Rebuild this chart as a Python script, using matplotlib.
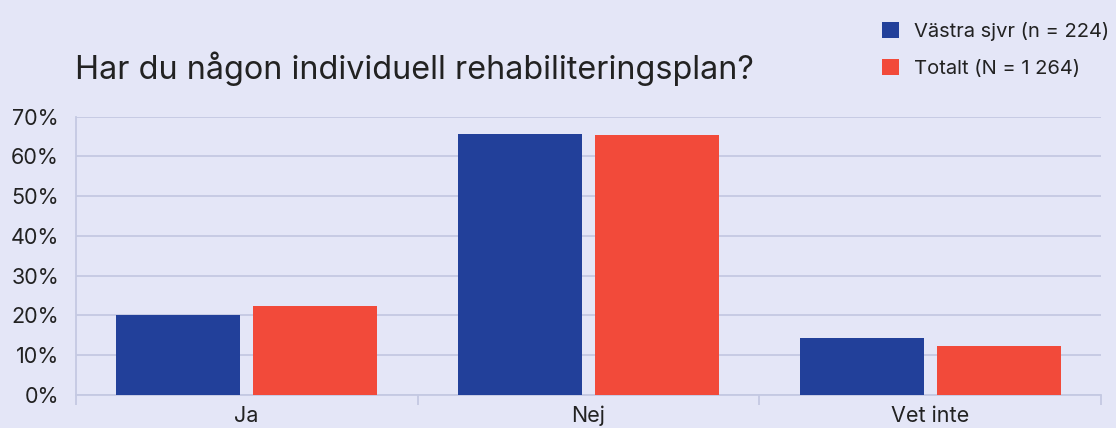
import matplotlib.pyplot as plt
import numpy as np

# data
categories = ["Ja", "Nej", "Vet inte"]
vastra = [20.1, 65.7, 14.3]
totalt = [22.3, 65.4, 12.3]
series_labels = ["Västra sjvr (n = 224)", "Totalt (N = 1 264)"]
yticks = [0, 10, 20, 30, 40, 50, 60, 70]

bg = "#E4E6F7"
blue = "#22409A"
red = "#F24A3A"
grid = "#C4C9E2"
txt = "#222222"

plt.rcParams['font.family'] = ['Inter', 'DejaVu Sans']

fig = plt.figure(figsize=(11.16, 4.28), dpi=100, facecolor=bg)
ax = fig.add_axes([0.0678, 0.0778, 0.919, 0.6495], facecolor=bg)

x = np.arange(len(categories))
w = 0.363
b1 = ax.bar(x - 0.2, vastra, w, color=blue, zorder=3)
b2 = ax.bar(x + 0.2, totalt, w, color=red, zorder=3)

ax.set_xlim(-0.5, 2.5)
ax.set_ylim(0, 70)
ax.set_yticks(yticks)
ax.set_yticklabels([f"{v}%" for v in yticks])
ax.yaxis.grid(True, color=grid, linewidth=1.3, zorder=0)
ax.set_axisbelow(True)

ax.set_xticks(x)
ax.set_xticklabels(categories)
ax.set_xticks([-0.5, 0.5, 1.5, 2.5], minor=True)
ax.tick_params(axis='x', which='major', length=0, pad=8, labelsize=15.5, colors=txt)
ax.tick_params(axis='x', which='minor', length=7, width=1.3, color=grid)
ax.tick_params(axis='y', length=0, pad=12, labelsize=15.5, colors=txt)

for s in ['top', 'right']:
    ax.spines[s].set_visible(False)
for s in ['left', 'bottom']:
    ax.spines[s].set_color(grid)
    ax.spines[s].set_linewidth(1.3)

fig.text(0.0668, 0.84, "Har du någon individuell rehabiliteringsplan?",
         fontsize=23.3, color=txt, va='center', ha='left')

fig.legend([b1, b2], series_labels, loc='upper left', bbox_to_anchor=(0.774, 0.99),
           frameon=False, fontsize=14.5, labelcolor=txt, handlelength=0.85,
           handleheight=0.85, handletextpad=0.75, labelspacing=0.85)

fig.savefig("out.png", dpi=100, facecolor=bg)
